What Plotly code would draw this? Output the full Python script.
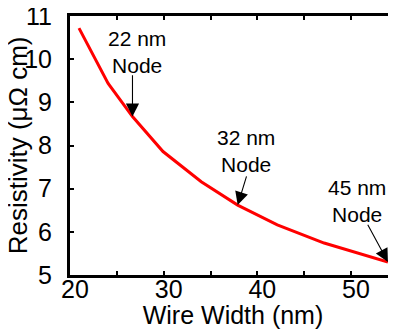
import plotly.graph_objects as go

# Curve vertices (wire width in nm, resistivity in µΩ·cm)
wire_width = [20.96, 24.07, 26.67, 29.93, 34.01, 37.90, 42.13, 47.13, 53.94]
resistivity = [10.72, 9.44, 8.67, 7.86, 7.16, 6.62, 6.16, 5.74, 5.30]

# Technology-node labels and which curve vertex each arrow points to
node_labels = ["22 nm<br>Node", "32 nm<br>Node", "45 nm<br>Node"]
node_index = [2, 5, 8]
label_x = [27.15, 38.84, 50.63]
label_y = [10.17, 7.87, 6.71]
tail_x = [26.67, 38.89, 51.70]
tail_y = [9.66, 7.32, 6.20]

x_ticks = [20, 30, 40, 50]
y_ticks = [5, 6, 7, 8, 9, 10, 11]
x_title = "Wire Width (nm)"
y_title = "Resistivity (μΩ cm)"

FONT = "Liberation Sans, Arial, Helvetica, sans-serif"

fig = go.Figure()
fig.add_trace(go.Scatter(x=wire_width, y=resistivity, mode="lines",
                         line=dict(color="#ff0000", width=3), showlegend=False))
# invisible trace to carry the right-side tick axis
fig.add_trace(go.Scatter(x=[wire_width[0]], y=[resistivity[0]], yaxis="y2",
                         mode="markers", marker=dict(opacity=0),
                         hoverinfo="skip", showlegend=False))

for i, lab in enumerate(node_labels):
    k = node_index[i]
    fig.add_annotation(x=label_x[i], y=label_y[i], text=lab, showarrow=False,
                       font=dict(family=FONT, size=21, color="black"),
                       xanchor="center", yanchor="middle")
    fig.add_annotation(x=wire_width[k], y=resistivity[k], ax=tail_x[i], ay=tail_y[i],
                       axref="x", ayref="y", text="", showarrow=True,
                       arrowhead=2, arrowsize=2.4, arrowwidth=1.1,
                       arrowcolor="black")

# y-axis title placed as rotated text to the left of the tick labels
fig.add_annotation(xref="paper", yref="paper", x=-0.16, y=0.5, text=y_title,
                   textangle=-90, showarrow=False, xanchor="center", yanchor="middle",
                   font=dict(family=FONT, size=26, color="black"))

fig.update_layout(
    width=388, height=321,
    margin=dict(l=62, r=0, t=8, b=54),
    paper_bgcolor="white", plot_bgcolor="white",
    font=dict(family=FONT, size=25, color="black"),
    xaxis=dict(range=[20, 54.8], tickvals=x_ticks, ticks="inside", ticklen=4,
               tickwidth=2, tickcolor="black", showline=True, linewidth=3,
               linecolor="black", mirror="ticks", showgrid=False, zeroline=False,
               minor=dict(dtick=5, tick0=0, ticks="inside", ticklen=4, tickwidth=2,
                          tickcolor="black"),
               tickfont=dict(size=25), ticklabelshift=5, ticklabelstandoff=-10,
               automargin=False,
               title=dict(text=x_title, font=dict(size=25), standoff=0)),
    yaxis=dict(range=[5, 11], tickvals=y_ticks, ticks="inside", ticklen=4,
               tickwidth=2, tickcolor="black", showline=True, linewidth=3,
               linecolor="black", mirror=False, showgrid=False, zeroline=False,
               tickfont=dict(size=25), ticklabelstandoff=10,
               ticklabeloverflow="allow", automargin=False),
    yaxis2=dict(range=[5, 11], overlaying="y", side="right", tickvals=y_ticks,
                ticks="inside", ticklen=4, tickwidth=2, tickcolor="black",
                showticklabels=False, showline=False, showgrid=False, zeroline=False,
                automargin=False),
)

fig.write_html("out.html")
